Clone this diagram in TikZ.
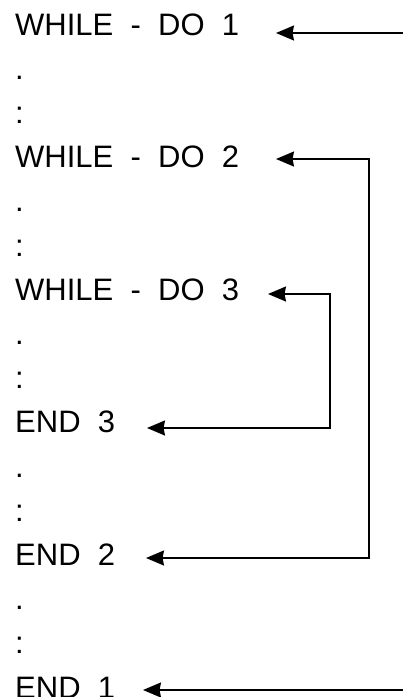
\documentclass[tikz,border=0pt]{standalone}
\usepackage{fontspec}
\setmainfont{Liberation Sans}
\usetikzlibrary{arrows.meta}

\begin{document}
\begin{tikzpicture}[
  x=1pt,y=-1pt,
  >={Stealth[length=18pt,width=15pt,inset=1.5pt]},
  codeline/.style={font=\fontsize{31}{31}\selectfont,anchor=base west,inner sep=0},
  loop/.style={line width=1.6pt},
]
  \useasboundingbox (0,0) rectangle (403,697);
  % program lines
  \foreach \name/\k/\txt in {w1/0/WHILE\ \ -\ \ DO\ \ 1,d1/1/.,c1/2/:,w2/3/WHILE\ \ -\ \ DO\ \ 2,d2/4/.,c2/5/:,
      w3/6/WHILE\ \ -\ \ DO\ \ 3,d3/7/.,c3/8/:,e3/9/END\ \ 3,d4/10/.,c4/11/:,e2/12/END\ \ 2,d5/13/.,c5/14/:,e1/15/END\ \ 1} {
    \pgfmathsetmacro{\y}{35+44.2*\k}
    \node[codeline] (\name) at (15,\y) {\txt};
  }

  % arrow ends
  \coordinate (t1) at (276,33);
  \coordinate (r1) at (403,33);
  \coordinate (t2) at (276,159);
  \coordinate (k2) at (369,358);
  \coordinate (t5) at (146,558);
  \coordinate (t3) at (268,294);
  \coordinate (k3) at (330,361);
  \coordinate (t4) at (147,428);
  \coordinate (t6) at (143,690);
  \coordinate (r6) at (403,690);

  \draw[loop,<-] (t1) -- (r1);
  \draw[loop,<->] (t2) -| (k2) |- (t5);
  \draw[loop,<->] (t3) -| (k3) |- (t4);
  \draw[loop,<-] (t6) -- (r6);
\end{tikzpicture}
\end{document}
